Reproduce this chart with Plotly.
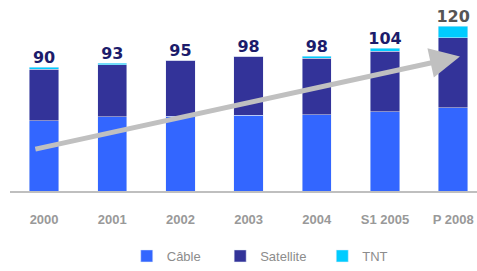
import plotly.graph_objects as go

categories = ["2000", "2001", "2002", "2003", "2004", "S1 2005", "P 2008"]
cable = [51, 54, 54.5, 55, 55.5, 57.5, 60.5]
satellite = [37.5, 38, 40.5, 43, 41, 44, 51]
tnt = [1.5, 1, 0, 0, 1.5, 2.5, 8.5]
totals = [90, 93, 95, 98, 98, 104, 120]
total_colors = ["#1c1c6b"] * 6 + ["#555555"]
legend_names = ["Câble\u00a0\u00a0\u00a0\u00a0", "Satellite\u00a0\u00a0\u00a0", "TNT"]

fig = go.Figure()
fig.add_trace(go.Bar(name=legend_names[0], x=categories, y=cable, marker_color="#3366ff"))
fig.add_trace(go.Bar(name=legend_names[1], x=categories, y=satellite, marker_color="#333399"))
fig.add_trace(go.Bar(name=legend_names[2], x=categories, y=tnt, marker_color="#00ccff"))
fig.add_trace(go.Scatter(
    x=categories, y=totals, mode="text", text=[str(t) for t in totals],
    textposition="top center", showlegend=False, hoverinfo="skip",
    textfont=dict(family="DejaVu Sans", size=16, color=total_colors, weight="bold"),
    cliponaxis=False,
))

fig.add_annotation(
    x=6.1, y=97.8, ax=-0.15, ay=30.2,
    xref="x", yref="y", axref="x", ayref="y",
    showarrow=True, arrowhead=2, arrowsize=1.2, arrowwidth=5,
    arrowcolor="#c0c0c0", text="",
)

fig.update_layout(
    width=477, height=271,
    margin=dict(l=10, r=0, t=12, b=78),
    barmode="stack", bargap=0.57,
    plot_bgcolor="white", paper_bgcolor="white",
    showlegend=True,
    legend=dict(orientation="h", x=0.25, xanchor="left", y=-0.365, yanchor="middle",
                font=dict(family="Liberation Sans, Arial", size=13, color="#8c8c8c"),
                traceorder="normal"),
    xaxis=dict(range=[-0.5, 6.35], showline=True, linecolor="#bfbfbf", linewidth=2,
               showgrid=False, ticks="", ticklabelstandoff=15,
               tickfont=dict(family="Liberation Sans, Arial", size=13, color="#999999", weight="bold")),
    yaxis=dict(range=[0, 130.2], visible=False, showgrid=False),
)

fig.write_html("out.html", config={"displayModeBar": False},
               post_script="document.body.style.margin='0';document.body.style.overflow='hidden';")
